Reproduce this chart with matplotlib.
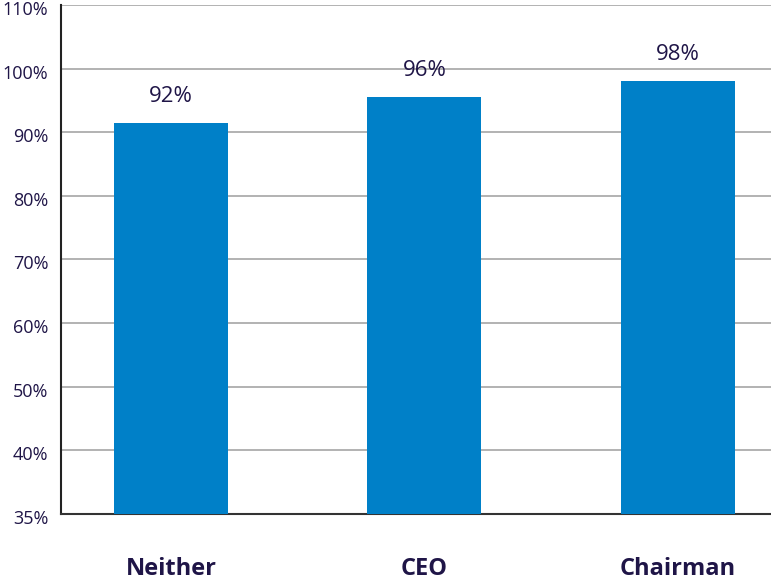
import matplotlib
matplotlib.use("Agg")
import matplotlib.pyplot as plt
import matplotlib.transforms as mtransforms

# Data
categories = ["Neither", "CEO", "Chairman"]
values = [91.5, 95.5, 98.1]
labels = ["92%", "96%", "98%"]
# axis ticks: the bottom tick is labelled 35% but sits one full step below 40%
ytick_pos = [30, 40, 50, 60, 70, 80, 90, 100, 110]
ytick_lab = ["35%", "40%", "50%", "60%", "70%", "80%", "90%", "100%", "110%"]

text_col = "#1f1547"
bar_col = "#0080c8"

plt.rcParams["font.family"] = ["Open Sans", "DejaVu Sans"]

fig = plt.figure(figsize=(7.71, 5.81), dpi=100)
ax = fig.add_axes([0.079, 0.116, 0.921, 0.875])

x = range(len(categories))
ax.bar(x, values, width=0.45, color=bar_col, zorder=3)

for i, (v, lab) in enumerate(zip(values, labels)):
    ax.annotate(lab, (i, v), xytext=(0, 19), textcoords="offset points",
                ha="center", va="center", fontsize=16, color=text_col)

ax.set_ylim(30, 110)
ax.set_xlim(-0.434, 2.367)
ax.set_yticks(ytick_pos)
ax.set_yticklabels(ytick_lab)
ax.set_xticks(list(x))
ax.set_xticklabels(categories, fontsize=17, fontweight="bold", color=text_col)
ax.tick_params(axis="x", length=0, pad=31)
ax.tick_params(axis="y", length=0, pad=9, labelsize=13, labelcolor=text_col)

shift = mtransforms.ScaledTranslation(0, -3 / 100, fig.dpi_scale_trans)
for t in ax.get_yticklabels():
    t.set_transform(t.get_transform() + shift)

for g in ytick_pos[1:]:
    ax.axhline(g, color="#a6a6a6", linewidth=1.2, zorder=1)

ax.spines["top"].set_visible(False)
ax.spines["right"].set_visible(False)
ax.spines["left"].set_color("#222222")
ax.spines["bottom"].set_color("#333333")
ax.spines["left"].set_linewidth(1.5)
ax.spines["bottom"].set_linewidth(1.5)

fig.savefig("out.png", dpi=100)
